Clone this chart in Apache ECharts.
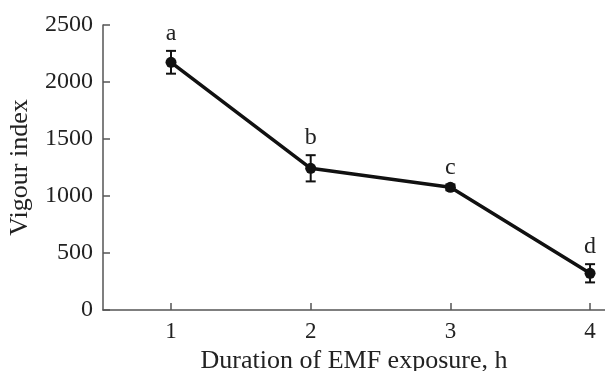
<!DOCTYPE html>
<html><head><meta charset="utf-8">
<script src="https://cdn.jsdelivr.net/npm/echarts@6/dist/echarts.min.js"></script>
<style>html,body{margin:0;padding:0;background:#fff}#c{width:605px;height:371px}</style>
</head><body><div id="c"></div>
<script>
var hours = [1, 2, 3, 4];
var vigour = [2173, 1243, 1076, 322];
var errors = [100, 115, 25, 80];
var letters = ['a', 'b', 'c', 'd'];
var yTicks = [0, 500, 1000, 1500, 2000, 2500];

var font = '"Liberation Serif", "Times New Roman", serif';
var chart = echarts.init(document.getElementById('c'));
var lineData = hours.map(function (h, i) { return [h, vigour[i]]; });
var errData = hours.map(function (h, i) { return [h, vigour[i] - errors[i], vigour[i] + errors[i], i]; });

chart.setOption({
  animation: false,
  grid: { left: 103, right: 0, top: 25, bottom: 61, outerBoundsMode: 'none', containLabel: false },
  xAxis: {
    type: 'value', min: 0.513, max: 4.107,
    name: 'Duration of EMF exposure, h', nameLocation: 'middle', nameGap: 31,
    nameTextStyle: { fontFamily: font, fontSize: 26, color: '#222' },
    axisLine: { lineStyle: { color: '#555', width: 1.5 } },
    axisTick: { inside: true, length: 7, customValues: hours, lineStyle: { color: '#555', width: 1.5 } },
    axisLabel: { customValues: hours, fontFamily: font, fontSize: 23, color: '#222', margin: 10 },
    splitLine: { show: false }
  },
  yAxis: {
    type: 'value', min: 0, max: 2500, interval: 500,
    name: 'Vigour index', nameLocation: 'middle', nameGap: 70,
    nameTextStyle: { fontFamily: font, fontSize: 26, color: '#222' },
    axisLine: { show: true, lineStyle: { color: '#555', width: 1.5 } },
    axisTick: { show: true, inside: true, length: 7, lineStyle: { color: '#555', width: 1.5 } },
    axisLabel: { customValues: yTicks, formatter: function (v) { return String(v); }, fontFamily: font, fontSize: 24, color: '#222', margin: 10 },
    splitLine: { show: false }
  },
  series: [
    {
      type: 'line', data: lineData, symbol: 'circle', symbolSize: 11,
      lineStyle: { color: '#111', width: 3.5 }, itemStyle: { color: '#111' }, z: 3
    },
    {
      type: 'custom', data: errData, z: 4,
      renderItem: function (params, api) {
        var x = api.value(0);
        var lo = api.coord([x, api.value(1)]);
        var hi = api.coord([x, api.value(2)]);
        var idx = api.value(3);
        var w = 5;
        var st = { stroke: '#111', lineWidth: 2 };
        return {
          type: 'group', children: [
            { type: 'line', shape: { x1: lo[0], y1: lo[1], x2: hi[0], y2: hi[1] }, style: st },
            { type: 'line', shape: { x1: lo[0] - w, y1: lo[1], x2: lo[0] + w, y2: lo[1] }, style: st },
            { type: 'line', shape: { x1: hi[0] - w, y1: hi[1], x2: hi[0] + w, y2: hi[1] }, style: st },
            { type: 'text', style: { text: letters[idx], x: hi[0], y: hi[1] - 5, textAlign: 'center', textVerticalAlign: 'bottom', font: '24px ' + font, fill: '#222' } }
          ]
        };
      }
    }
  ]
});
</script></body></html>
